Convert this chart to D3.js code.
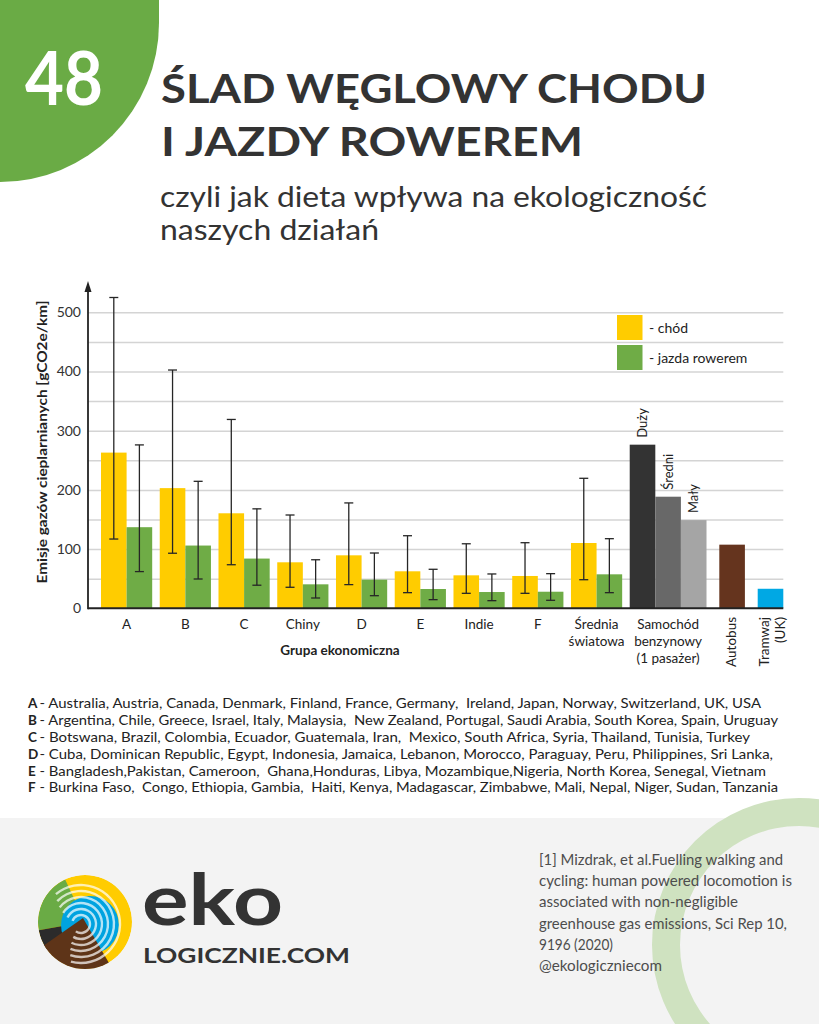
<!DOCTYPE html>
<html>
<head>
<meta charset="utf-8">
<script src="https://cdn.jsdelivr.net/npm/d3@7"></script>
<style>
  body { margin: 0; background: #fff; }
  svg { display: block; }
  text { font-family: Lato, "Open Sans", sans-serif; white-space: pre; }
</style>
</head>
<body>
<svg id="chart" width="819" height="1024"></svg>
<script>
// ---- data ----
var groupLabels = [["A"], ["B"], ["C"], ["Chiny"], ["D"], ["E"], ["Indie"], ["F"], ["Średnia", "światowa"]];
var walking     = [263, 203, 160.5, 77.7, 89.5, 62.5, 55.7, 54.6, 110.3];
var walkingLow  = [117, 93, 73.6, 35.5, 40, 26.4, 25.3, 25.3, 48.3];
var walkingHigh = [525, 402.5, 319, 157.6, 178, 122.6, 109, 110.8, 219.6];
var cycling     = [137, 106, 84, 40.5, 48.4, 32.6, 27.5, 28, 57.4];
var cyclingLow  = [62, 49.5, 39, 17.4, 21.3, 14.6, 12.9, 13.5, 26.4];
var cyclingHigh = [276, 214.5, 168, 82, 93.4, 65.9, 58, 58.5, 117.6];

var carSizes  = ["Duży", "Średni", "Mały"];
var carValues = [276.4, 188.5, 149];
var carLabel  = ["Samochód", "benzynowy", "(1 pasażer)"];

var otherLabels = [["Autobus"], ["Tramwaj", "(UK)"]];
var otherValues = [107.5, 33];

var yTicks    = [0, 100, 200, 300, 400, 500];
var gridTicks = [50, 100, 150, 200, 250, 300, 350, 400, 450, 500];

var legendItems = ["- chód", "- jazda rowerem"];

var countries = [
  ["A", "- Australia, Austria, Canada, Denmark, Finland, France, Germany,  Ireland, Japan, Norway, Switzerland, UK, USA"],
  ["B", "- Argentina, Chile, Greece, Israel, Italy, Malaysia,  New Zealand, Portugal, Saudi Arabia, South Korea, Spain, Uruguay"],
  ["C", "- Botswana, Brazil, Colombia, Ecuador, Guatemala, Iran,  Mexico, South Africa, Syria, Thailand, Tunisia, Turkey"],
  ["D", "- Cuba, Dominican Republic, Egypt, Indonesia, Jamaica, Lebanon, Morocco, Paraguay, Peru, Philippines, Sri Lanka,"],
  ["E", "- Bangladesh,Pakistan, Cameroon,  Ghana,Honduras, Libya, Mozambique,Nigeria, North Korea, Senegal, Vietnam"],
  ["F", "- Burkina Faso,  Congo, Ethiopia, Gambia,  Haiti, Kenya, Madagascar, Zimbabwe, Mali, Nepal, Niger, Sudan, Tanzania"]
];
var countryEnds = [761, 778, 750, 773, 766, 778];

var sourceLines = [
  "[1] Mizdrak, et al.Fuelling walking and",
  "cycling: human powered locomotion is",
  "associated with non-negligible",
  "greenhouse gas emissions, Sci Rep 10,",
  "9196 (2020)",
  "@ekologiczniecom"
];
var sourceEnds = [783, 792, 738, 787, 613, 662];

// ---- colours ----
var YELLOW = "#ffcc00", GREEN = "#6fac46";
var carColors = ["#333333", "#686868", "#a5a5a5"];
var otherColors = ["#65341e", "#00a8e4"];

var svg = d3.select("#chart");

// ---- header ----
svg.append("path")
    .attr("d", d3.arc()({innerRadius: 0, outerRadius: 159, startAngle: Math.PI / 2, endAngle: Math.PI}))
    .attr("transform", "translate(0,23)")
    .attr("fill", "#6aab45");
svg.append("rect").attr("x", 0).attr("y", 0).attr("width", 159).attr("height", 23).attr("fill", "#6aab45");

svg.append("text").attr("x", 25).attr("y", 105)
    .attr("font-size", 74).attr("font-weight", 700).attr("fill", "#fff")
    .attr("textLength", 78).attr("lengthAdjust", "spacingAndGlyphs")
    .text("48");

var title = [["ŚLAD WĘGLOWY CHODU", 103, 546], ["I JAZDY ROWEREM", 156, 422]];
svg.selectAll("text.title").data(title).enter().append("text")
    .attr("class", "title")
    .attr("x", 161).attr("y", function(d) { return d[1]; })
    .attr("font-size", 40).attr("font-weight", 700).attr("fill", "#333")
    .attr("textLength", function(d) { return d[2]; }).attr("lengthAdjust", "spacingAndGlyphs")
    .text(function(d) { return d[0]; });

var subtitle = [["czyli jak dieta wpływa na ekologiczność", 207, 547], ["naszych działań", 240, 219]];
svg.selectAll("text.subtitle").data(subtitle).enter().append("text")
    .attr("class", "subtitle")
    .attr("x", 160).attr("y", function(d) { return d[1]; })
    .attr("font-size", 29).attr("font-weight", 400).attr("fill", "#333")
    .attr("textLength", function(d) { return d[2]; }).attr("lengthAdjust", "spacingAndGlyphs")
    .text(function(d) { return d[0]; });

// ---- chart ----
var axisX = 88, plotRight = 783.3;
var y = d3.scaleLinear().domain([0, 500]).range([608.3, 312.3]);

var pairGap = 0.295, wideGap = 0.5;
var bars = [], labels = [], errs = [];
var u = 0;
groupLabels.forEach(function(lines, i) {
    bars.push({u: u, v: walking[i], color: YELLOW});
    bars.push({u: u + 1, v: cycling[i], color: GREEN});
    errs.push({u: u + 0.5, lo: walkingLow[i], hi: walkingHigh[i]});
    errs.push({u: u + 1.5, lo: cyclingLow[i], hi: cyclingHigh[i]});
    labels.push({u: u + 1, lines: lines, rot: false});
    u += 2 + pairGap;
});
carValues.forEach(function(v, i) {
    bars.push({u: u + i, v: v, color: carColors[i], name: carSizes[i]});
});
labels.push({u: u + 1.5, lines: carLabel, rot: false});
u += 3 + wideGap;
otherValues.forEach(function(v, i) {
    bars.push({u: u, v: v, color: otherColors[i]});
    labels.push({u: u + 0.5, lines: otherLabels[i], rot: true});
    u += 1 + wideGap;
});
u -= wideGap;

var x = d3.scaleLinear().domain([0, u]).range([101, plotRight]);
var bw = x(1) - x(0);

// gridlines
svg.append("g")
    .attr("transform", "translate(" + axisX + ",0)")
    .call(d3.axisLeft(y).tickValues(gridTicks).tickSize(-(plotRight - axisX)).tickFormat(""))
    .call(function(g) { g.select(".domain").remove(); })
    .selectAll("line").attr("stroke", "#d4d4d4").attr("stroke-width", 1.5);

// y tick labels
svg.append("g")
    .attr("transform", "translate(81,0)")
    .call(d3.axisLeft(y).tickValues(yTicks).tickSize(0).tickPadding(0))
    .call(function(g) { g.select(".domain").remove(); })
    .selectAll("text")
    .attr("font-family", "Lato, 'Open Sans', sans-serif")
    .attr("font-size", 14).attr("fill", "#333");

// bars
svg.append("g").selectAll("rect").data(bars).enter().append("rect")
    .attr("x", function(d) { return x(d.u); })
    .attr("y", function(d) { return y(d.v); })
    .attr("width", bw)
    .attr("height", function(d) { return y(0) - y(d.v); })
    .attr("fill", function(d) { return d.color; });

// error bars
var eg = svg.append("g").attr("stroke", "#262626").attr("stroke-width", 1.3);
errs.forEach(function(d) {
    var cx = x(d.u);
    eg.append("line").attr("x1", cx).attr("x2", cx).attr("y1", y(d.lo)).attr("y2", y(d.hi));
    eg.append("line").attr("x1", cx - 4.5).attr("x2", cx + 4.5).attr("y1", y(d.lo)).attr("y2", y(d.lo));
    eg.append("line").attr("x1", cx - 4.5).attr("x2", cx + 4.5).attr("y1", y(d.hi)).attr("y2", y(d.hi));
});

// car size labels
svg.append("g").selectAll("text").data(bars.filter(function(d) { return d.name; })).enter().append("text")
    .attr("transform", function(d) {
        return "translate(" + (x(d.u + 0.5) + 4.5) + "," + (y(d.v) - 7) + ") rotate(-90)";
    })
    .attr("font-size", 13).attr("fill", "#222")
    .text(function(d) { return d.name; });

// axes lines
svg.append("line").attr("x1", axisX).attr("x2", plotRight).attr("y1", y(0)).attr("y2", y(0))
    .attr("stroke", "#222").attr("stroke-width", 2);
svg.append("line").attr("x1", axisX).attr("x2", axisX).attr("y1", y(0) + 1).attr("y2", 288)
    .attr("stroke", "#222").attr("stroke-width", 1.8);
svg.append("path").attr("d", "M" + (axisX - 3.5) + ",292L" + axisX + ",281L" + (axisX + 3.5) + ",292Z")
    .attr("fill", "#222");

// category labels
var lg = svg.append("g").attr("font-size", 13.5).attr("fill", "#222");
labels.forEach(function(d) {
    var cx = x(d.u);
    if (!d.rot) {
        d.lines.forEach(function(line, j) {
            lg.append("text").attr("x", cx).attr("y", 629 + j * 17)
                .attr("text-anchor", "middle").text(line);
        });
    } else {
        var n = d.lines.length;
        d.lines.forEach(function(line, j) {
            var bx = cx + 5 + (j - (n - 1) / 2) * 16 + (n > 1 ? 1.5 : -1);
            lg.append("text")
                .attr("transform", "translate(" + bx + ",617) rotate(-90)")
                .attr("text-anchor", "end").text(line);
        });
    }
});

// axis titles
svg.append("text")
    .attr("transform", "translate(47,442) rotate(-90)")
    .attr("text-anchor", "middle")
    .attr("font-size", 13).attr("font-weight", 700).attr("fill", "#222")
    .attr("textLength", 283).attr("lengthAdjust", "spacingAndGlyphs")
    .text("Emisje gazów cieplarnianych [gCO2e/km]");
svg.append("text")
    .attr("x", 340).attr("y", 655)
    .attr("text-anchor", "middle")
    .attr("font-size", 13.5).attr("font-weight", 700).attr("fill", "#222")
    .text("Grupa ekonomiczna");

// legend
var leg = svg.append("g").selectAll("g").data(legendItems).enter().append("g")
    .attr("transform", function(d, i) { return "translate(617," + (315 + i * 30) + ")"; });
leg.append("rect").attr("width", 25.5).attr("height", 25)
    .attr("fill", function(d, i) { return i === 0 ? YELLOW : GREEN; });
leg.append("text").attr("x", 32).attr("y", 17.5)
    .attr("font-size", 14).attr("fill", "#222")
    .text(function(d) { return d; });

// ---- country list ----
var cl = svg.append("g").attr("font-size", 13.5).attr("fill", "#222");
countries.forEach(function(c, i) {
    var by = 708.3 + i * 16.8;
    cl.append("text").attr("x", 28).attr("y", by).attr("font-weight", 700).text(c[0]);
    cl.append("text").attr("x", 39.5).attr("y", by)
        .attr("textLength", countryEnds[i] - 39.5).attr("lengthAdjust", "spacingAndGlyphs")
        .text(c[1]);
});

// ---- footer ----
svg.append("rect").attr("x", 0).attr("y", 818).attr("width", 819).attr("height", 206).attr("fill", "#f3f3f3");
svg.append("path")
    .attr("d", d3.arc()({innerRadius: 119, outerRadius: 147, startAngle: 0, endAngle: 2 * Math.PI}))
    .attr("transform", "translate(799,945)")
    .attr("fill", "#cfe2c0");

// logo
var logo = svg.append("g").attr("transform", "translate(85,922)");
logo.append("clipPath").attr("id", "logoClip").append("circle").attr("r", 47);
var lc = logo.append("g").attr("clip-path", "url(#logoClip)");
var deg = Math.PI / 180;
lc.append("circle").attr("r", 47).attr("fill", "#ffcc00");
lc.append("path").attr("d", d3.arc()({innerRadius: 0, outerRadius: 47, startAngle: -100 * deg, endAngle: -25 * deg})).attr("fill", "#6aab45");
lc.append("path").attr("d", d3.arc()({innerRadius: 0, outerRadius: 47, startAngle: -125 * deg, endAngle: -100 * deg})).attr("fill", "#2b2b2b");
lc.append("circle").attr("cx", 5).attr("cy", 3).attr("r", 29).attr("fill", "#00a3e0");
lc.append("path").attr("d", d3.arc()({innerRadius: 0, outerRadius: 60, startAngle: 150 * deg, endAngle: 235 * deg}))
    .attr("transform", "translate(-2,-4)").attr("fill", "#5e3418");
[9, 15, 21, 27, 33, 39].forEach(function(r, i) {
    lc.append("path")
        .attr("d", d3.arc()({innerRadius: r - 1.2, outerRadius: r + 1.2, startAngle: (-70 + i * 6) * deg, endAngle: (215 - i * 4) * deg}))
        .attr("transform", "translate(-4,2)")
        .attr("fill", "#fff").attr("opacity", 0.7);
});
svg.append("text").attr("x", 142).attr("y", 925)
    .attr("font-size", 70).attr("font-weight", 700).attr("fill", "#333")
    .attr("font-family", "'Open Sans', sans-serif")
    .attr("textLength", 141).attr("lengthAdjust", "spacingAndGlyphs")
    .text("eko");
svg.append("text").attr("x", 143).attr("y", 963)
    .attr("font-size", 21).attr("font-weight", 700).attr("fill", "#333")
    .attr("textLength", 207).attr("lengthAdjust", "spacingAndGlyphs")
    .text("LOGICZNIE.COM");

// source
svg.append("g").selectAll("text").data(sourceLines).enter().append("text")
    .attr("x", 539).attr("y", function(d, i) { return 865 + i * 21.2; })
    .attr("font-size", 15).attr("fill", "#4d4d4d")
    .attr("textLength", function(d, i) { return sourceEnds[i] - 539; })
    .attr("lengthAdjust", "spacingAndGlyphs")
    .text(function(d) { return d; });
</script>
</body>
</html>
